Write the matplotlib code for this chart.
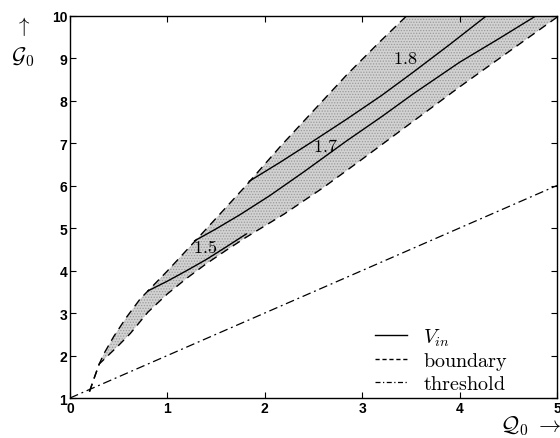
import matplotlib
matplotlib.use("Agg")
import matplotlib.pyplot as plt
from matplotlib.lines import Line2D
import numpy as np

plt.rcParams['mathtext.fontset'] = 'cm'
plt.rcParams['hatch.linewidth'] = 0.6
plt.rcParams['font.family'] = ['Liberation Sans', 'DejaVu Sans']

# Boundaries of the admissible region
upper_q = [0.20, 0.25, 0.30, 0.35, 0.45, 0.58, 0.72, 1.00, 1.40, 1.80, 2.16, 2.50, 2.84, 3.18, 3.46]
upper_g = [1.15, 1.48, 1.80, 2.05, 2.45, 2.90, 3.33, 3.99, 4.98, 5.98, 6.92, 7.76, 8.60, 9.38, 10.0]
lower_q = [0.20, 0.25, 0.30, 0.40, 0.50, 0.62, 0.80, 1.00, 1.20, 1.40, 1.60, 1.80, 2.20, 2.60, 3.00, 3.50, 4.00, 4.50, 5.00]
lower_g = [1.15, 1.48, 1.80, 2.02, 2.24, 2.52, 3.02, 3.45, 3.82, 4.16, 4.47, 4.77, 5.33, 5.95, 6.62, 7.47, 8.32, 9.14, 9.96]

# V_in level curves
vin15_q = [0.80, 1.00, 1.20, 1.40, 1.60, 1.81]
vin15_g = [3.52, 3.75, 4.00, 4.26, 4.55, 4.86]
vin17_q = [1.28, 1.50, 1.75, 2.05, 2.40, 2.84, 3.20, 3.52, 4.00, 4.40, 4.79]
vin17_g = [4.70, 4.98, 5.32, 5.76, 6.32, 7.05, 7.62, 8.15, 8.90, 9.45, 10.0]
vin18_q = [1.84, 2.16, 2.50, 2.84, 3.20, 3.52, 3.90, 4.28]
vin18_g = [6.10, 6.55, 7.05, 7.56, 8.12, 8.66, 9.32, 10.0]

level_labels = ['1.5', '1.7', '1.8']
level_q = [1.39, 2.62, 3.44]
level_g = [4.54, 6.92, 8.99]

# Threshold line
thr_q = [0.0, 5.0]
thr_g = [1.0, 6.0]

x_ticks = [0, 1, 2, 3, 4, 5]
y_ticks = [1, 2, 3, 4, 5, 6, 7, 8, 9, 10]

fig = plt.figure(figsize=(5.60, 4.39), dpi=100)
ax = fig.add_axes([0.125, 0.0911, 0.8696, 0.8713])

# Shaded region between the two boundaries
poly_q = np.concatenate([upper_q, [5.0], lower_q[::-1]])
poly_g = np.concatenate([upper_g, [10.0], lower_g[::-1]])
ax.fill(poly_q, poly_g, facecolor='#d2d2d2', edgecolor='#9a9a9a', hatch='......', linewidth=0, zorder=1)

lw = 1.0
ax.plot(upper_q, upper_g, color='black', lw=lw, ls=(0, (6, 4)), zorder=3)
ax.plot(lower_q, lower_g, color='black', lw=lw, ls=(0, (6, 4)), zorder=3)
for q, g in [(vin15_q, vin15_g), (vin17_q, vin17_g), (vin18_q, vin18_g)]:
    ax.plot(q, g, color='black', lw=lw, zorder=3)
ax.plot(thr_q, thr_g, color='black', lw=0.9, ls=(0, (7, 3, 1.5, 3)), zorder=3)

for t, q, g in zip(level_labels, level_q, level_g):
    ax.text(q, g, r'$\mathrm{' + t + '}$', fontsize=13, ha='center', va='center', zorder=4)

ax.set_xlim(0, 5)
ax.set_ylim(1, 10)
ax.set_xticks(x_ticks)
ax.set_yticks(y_ticks)
ax.tick_params(direction='in', length=4, width=0.8, top=True, right=True,
               labelsize=10, pad=2)
for lab in ax.get_xticklabels() + ax.get_yticklabels():
    lab.set_fontweight('bold')
for s in ax.spines.values():
    s.set_linewidth(1.0)

handles = [
    Line2D([], [], color='black', lw=lw),
    Line2D([], [], color='black', lw=lw, ls=(0, (3, 2))),
    Line2D([], [], color='black', lw=0.9, ls=(0, (4, 2, 1, 2))),
]
labels = [r'$V_{in}$', r'$\mathrm{boundary}$', r'$\mathrm{threshold}$']
ax.legend(handles, labels, loc='center left', bbox_to_anchor=(0.626, 0.10),
          frameon=False, fontsize=14.5, handlelength=1.6, handletextpad=0.8,
          borderpad=0, borderaxespad=0, labelspacing=0.1)

# Axis labels with arrows
fig.text(23 / 560, 1 - 27 / 439, r'$\uparrow$', fontsize=15, ha='center', va='center')
fig.text(23 / 560, 1 - 57 / 439, r'$\mathcal{G}_0$', fontsize=16, ha='center', va='center')
fig.text(500 / 560, 1 - 426 / 439, r'$\mathcal{Q}_0\ \rightarrow$', fontsize=16, ha='left', va='center')

fig.savefig('out.png', dpi=100)
